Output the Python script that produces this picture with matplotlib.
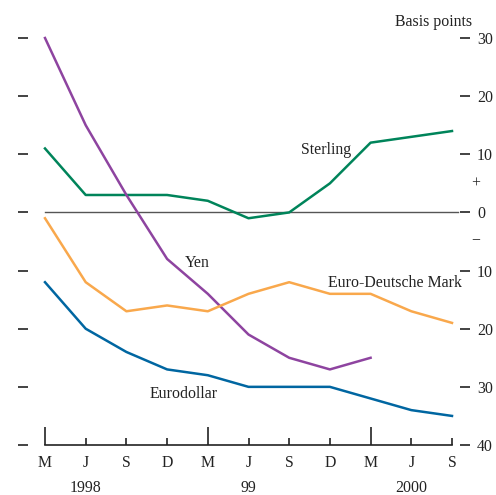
import matplotlib
matplotlib.use("Agg")
import matplotlib.pyplot as plt
import matplotlib.transforms as mtransforms

plt.rcParams['font.family'] = ['Liberation Serif', 'DejaVu Serif']

months = ['M', 'J', 'S', 'D', 'M', 'J', 'S', 'D', 'M', 'J', 'S']
years = ['1998', '99', '2000']
year_pos = [1, 5, 9]
sterling = [11, 3, 3, 3, 2, -1, 0, 5, 12, 13, 14]
yen = [30, 15, 3, -8, -14, -21, -25, -27, -25]
euro_dm = [-1, -12, -17, -16, -17, -14, -12, -14, -14, -17, -19]
eurodollar = [-12, -20, -24, -27, -28, -30, -30, -30, -32, -34, -35]
yticks = [30, 20, 10, 0, -10, -20, -30, -40]
ylabels = ['30', '20', '10', '0', '10', '20', '30', '40']

c_ster = '#00845a'
c_yen = '#8e44a0'
c_edm = '#f9a84c'
c_ed = '#0066a1'
tc = '#222222'

fig = plt.figure(figsize=(4.96, 4.95), dpi=100)
ax = fig.add_axes([45/496, 50/495, 407/496, 407/495])
ax.set_xlim(0, 10)
ax.set_ylim(-40, 30)

x = list(range(len(months)))
lw = 1.8
ax.axhline(0, color='#555555', lw=1.0, xmin=0, xmax=1.015, clip_on=False, zorder=1)
ax.plot(x, sterling, color=c_ster, lw=lw, clip_on=False, zorder=3)
ax.plot(x[:len(yen)], yen, color=c_yen, lw=lw, clip_on=False, zorder=3)
ax.plot(x, euro_dm, color=c_edm, lw=lw, clip_on=False, zorder=3)
ax.plot(x, eurodollar, color=c_ed, lw=lw, clip_on=False, zorder=3)

fs = 11.4
ax.text(6.9, 10.7, 'Sterling', fontsize=fs, ha='center', va='center', color=tc)
ax.text(3.75, -8.7, 'Yen', fontsize=fs, ha='center', va='center', color=tc)
ax.text(8.6, -12.2, 'Euro-Deutsche Mark', fontsize=fs, ha='center', va='center', color=tc)
ax.text(3.4, -31.2, 'Eurodollar', fontsize=fs, ha='center', va='center', color=tc)

ax.spines['top'].set_visible(False)
ax.spines['left'].set_position(('outward', 12.2))
ax.spines['left'].set_visible(False)
ax.spines['right'].set_position(('outward', 5.8))
ax.spines['right'].set_visible(False)
ax.spines['bottom'].set_color(tc)
ax.spines['bottom'].set_linewidth(1.2)

ax.set_yticks(yticks)
ax.yaxis.set_ticks_position('both')
ax.tick_params(axis='y', which='major', direction='out', length=7.2, width=1.2,
               color=tc, left=True, right=True, labelleft=False, labelright=True,
               labelsize=fs, pad=5.0, labelcolor=tc)
ax.set_yticklabels(ylabels)

ax.set_xticks(x)
ax.set_xticklabels(months)
ax.tick_params(axis='x', direction='in', length=5, width=1.2, color=tc,
               labelsize=fs, pad=7, labelcolor=tc)
for i, t in enumerate(ax.xaxis.get_major_ticks()):
    if i in (0, 4, 8):
        t.tick1line.set_markersize(13)

trans = mtransforms.blended_transform_factory(ax.transData, ax.transAxes)
for yp, yl in zip(year_pos, years):
    ax.text(yp, -0.105, yl, transform=trans, fontsize=fs, ha='center', va='center',
            color=tc)

tr2 = mtransforms.blended_transform_factory(ax.transAxes, ax.transData)
ax.text(1.058, 5, '+', transform=tr2, fontsize=fs, ha='center', va='center', color=tc)
ax.text(1.058, -5, '\u2212', transform=tr2, fontsize=fs, ha='center', va='center', color=tc)
ax.text(1.05, 1.04, 'Basis points', transform=ax.transAxes, fontsize=fs, ha='right',
        va='center', color=tc)

fig.savefig('out.png', dpi=100)
